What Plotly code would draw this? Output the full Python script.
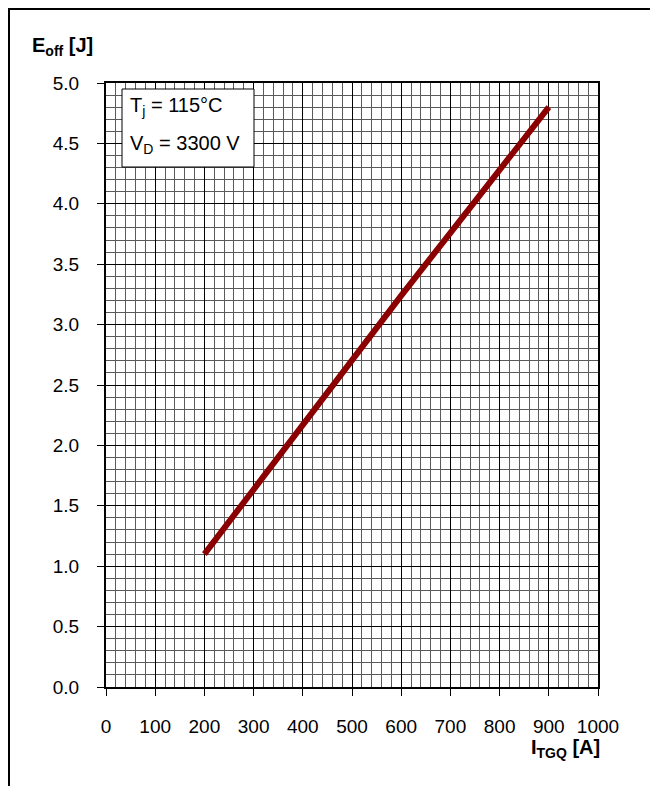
import plotly.graph_objects as go

# Data
current_A = [200, 300, 400, 500, 600, 700, 800, 900]
eoff_J = [1.10, 1.64, 2.18, 2.71, 3.24, 3.76, 4.28, 4.80]

x_ticks = [0, 100, 200, 300, 400, 500, 600, 700, 800, 900, 1000]
y_ticks = [0.0, 0.5, 1.0, 1.5, 2.0, 2.5, 3.0, 3.5, 4.0, 4.5, 5.0]

OFF = 8  # page body margin
W, H = 658 - OFF, 786 - OFF
L, R, T, B = 106 - OFF, 60, 83 - OFF, 99
pw, ph = W - L - R, H - T - B


def px(x):
    # page pixel x -> paper
    return (x - OFF - L) / pw


def py(y):
    # page pixel y -> paper
    return (H - B - (y - OFF)) / ph


FONT = "Liberation Sans, Arial, sans-serif"

fig = go.Figure()
fig.add_trace(go.Scatter(
    x=current_A, y=eoff_J, mode="lines",
    line=dict(color="#8b0000", width=6),
    showlegend=False, hoverinfo="skip",
))

axis_common = dict(
    showline=True, linecolor="black", linewidth=2, mirror=True,
    ticks="outside", ticklen=7, tickcolor="black", tickwidth=1,
    showgrid=True, gridcolor="black", gridwidth=1,
    zeroline=False,
    tickfont=dict(family=FONT, size=19, color="black"),
)

fig.update_xaxes(
    range=[0, 1000], tickvals=x_ticks, ticktext=[str(v) for v in x_ticks],
    minor=dict(dtick=20, showgrid=True, gridcolor="#5a5a5a", gridwidth=1, ticks=""),
    ticklabelstandoff=14,
    **axis_common,
)
fig.update_yaxes(
    range=[0, 5], tickvals=y_ticks, ticktext=[f"{v:.1f}" for v in y_ticks],
    minor=dict(dtick=0.1, showgrid=True, gridcolor="#5a5a5a", gridwidth=1, ticks=""),
    ticklabelstandoff=14,
    **axis_common,
)

shapes = [
    # annotation box
    dict(type="rect", xref="paper", yref="paper",
         x0=px(122), x1=px(254), y0=py(167), y1=py(89),
         line=dict(color="black", width=1), fillcolor="white", layer="above"),
    # outer frame (top and left)
    dict(type="line", xref="paper", yref="paper",
         x0=px(OFF), x1=px(658), y0=py(OFF + 1), y1=py(OFF + 1),
         line=dict(color="black", width=2)),
    dict(type="line", xref="paper", yref="paper",
         x0=px(OFF + 1), x1=px(OFF + 1), y0=py(OFF), y1=py(786),
         line=dict(color="black", width=2)),
]

annotations = [
    dict(text="<b>E<sub>off</sub> [J]</b>", xref="paper", yref="paper",
         x=px(30), y=py(47), xanchor="left", yanchor="middle", showarrow=False,
         font=dict(family=FONT, size=20, color="black")),
    dict(text="<b>I<sub>TGQ</sub> [A]</b>", xref="paper", yref="paper",
         x=px(529), y=py(748), xanchor="left", yanchor="middle", showarrow=False,
         font=dict(family=FONT, size=20, color="black")),
    dict(text="T<sub>j</sub> = 115°C", xref="paper", yref="paper",
         x=px(128), y=py(107), xanchor="left", yanchor="middle", showarrow=False,
         font=dict(family=FONT, size=20, color="black")),
    dict(text="V<sub>D</sub> = 3300 V", xref="paper", yref="paper",
         x=px(128), y=py(145), xanchor="left", yanchor="middle", showarrow=False,
         font=dict(family=FONT, size=20, color="black")),
]

fig.update_layout(
    width=W, height=H, autosize=False,
    margin=dict(l=L, r=R, t=T, b=B, pad=0),
    paper_bgcolor="white", plot_bgcolor="white",
    shapes=shapes, annotations=annotations,
    font=dict(family=FONT, color="black"),
)

fig.write_html("out.html")
